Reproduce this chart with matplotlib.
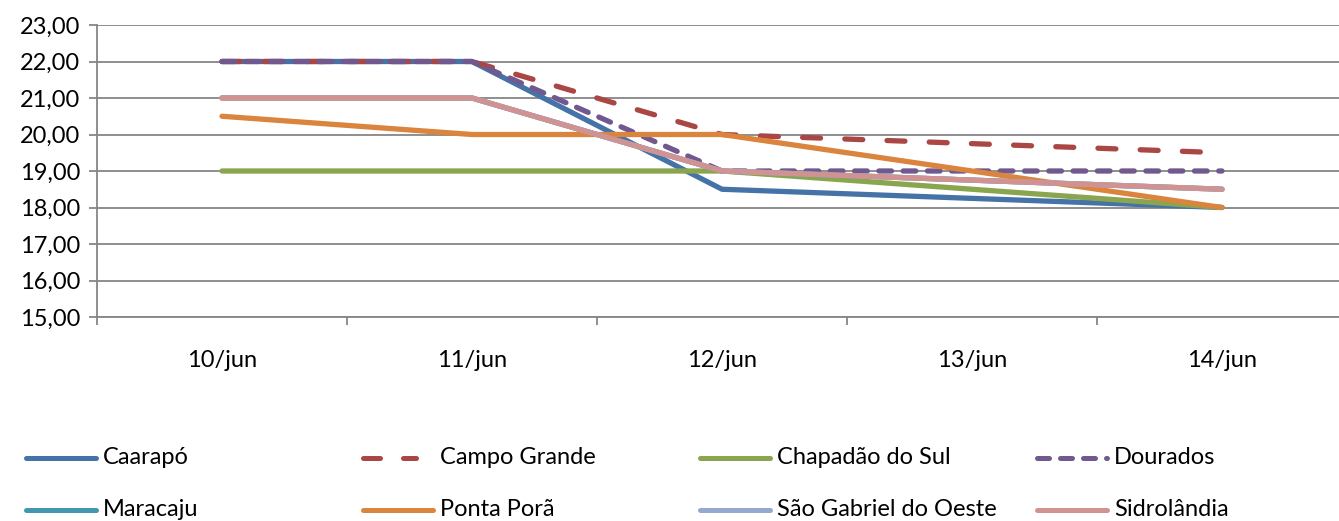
import numpy as np
import matplotlib
matplotlib.use("Agg")
import matplotlib.pyplot as plt
from matplotlib.lines import Line2D
from matplotlib.ticker import FuncFormatter, FixedLocator

plt.rcParams['font.family'] = ['Lato', 'DejaVu Sans']

# data (13/jun has no reading, lines join across it)
dates = ["10/jun", "11/jun", "12/jun", "13/jun", "14/jun"]
caarapo = [22.0, 22.0, 18.5, np.nan, 18.0]
campo_grande = [22.0, 22.0, 20.0, np.nan, 19.5]
chapadao = [19.0, 19.0, 19.0, np.nan, 18.0]
dourados = [22.0, 22.0, 19.0, np.nan, 19.0]
maracaju = [21.0, 21.0, 19.0, np.nan, 18.5]
ponta_pora = [20.5, 20.0, 20.0, np.nan, 18.0]
sao_gabriel = [21.0, 21.0, 19.0, np.nan, 18.5]
sidrolandia = [21.0, 21.0, 19.0, np.nan, 18.5]

names = ["Caarapó", "Campo Grande", "Chapadão do Sul", "Dourados",
         "Maracaju", "Ponta Porã", "São Gabriel do Oeste", "Sidrolândia"]
series = [caarapo, campo_grande, chapadao, dourados,
          maracaju, ponta_pora, sao_gabriel, sidrolandia]
colors = ["#4572A7", "#AA4643", "#89A54E", "#71588F",
          "#4198AF", "#DB843D", "#93A9CF", "#D19392"]
dashes = [None, (3.4, 4.6), None, (2.4, 2.2), None, None, None, None]

FS = 17
W, H = 1339, 521
fig = plt.figure(figsize=(W / 100, H / 100), dpi=100)
ax = fig.add_axes([97 / W, 1 - 317 / H, 1250 / W, 292 / H])

lw = 3.8
x = np.arange(len(dates))
for vals, c, d in zip(series, colors, dashes):
    arr = np.array(vals, dtype=float)
    m = ~np.isnan(arr)
    ln, = ax.plot(x[m], arr[m], color=c, lw=lw, solid_capstyle='round',
                  dash_capstyle='round', solid_joinstyle='round')
    if d is not None:
        ln.set_dashes(d)

ax.set_xlim(-0.5, len(dates) - 0.5)
ax.set_ylim(15, 23)
ax.set_yticks(np.arange(15, 24, 1))
ax.yaxis.set_major_formatter(FuncFormatter(lambda v, p: f"{v:.2f}".replace(".", ",")))
ax.grid(axis='y', color='#868686', lw=1.3)
ax.set_axisbelow(True)

ax.set_xticks(x)
ax.set_xticklabels(dates)
ax.xaxis.set_minor_locator(FixedLocator(np.arange(-0.5, len(dates), 1.0)))
ax.tick_params(axis='x', which='major', length=0, pad=24, labelsize=FS)
ax.tick_params(axis='x', which='minor', length=6, width=1.3, color='#868686')
ax.tick_params(axis='y', length=6, width=1.3, color='#868686', labelsize=FS, pad=6)

for s in ['top', 'right']:
    ax.spines[s].set_visible(False)
for s in ['left', 'bottom']:
    ax.spines[s].set_color('#868686')
    ax.spines[s].set_linewidth(1.3)

# legend laid out like Excel: 4 equal columns, 2 rows
row_y = [458, 510]
for i, (name, c, d) in enumerate(zip(names, colors, dashes)):
    col, row = i % 4, i // 4
    x0 = 26 + 337 * col
    yf = 1 - row_y[row] / H
    hlen = 53 if i == 1 else 70
    hl = Line2D([x0 / W, (x0 + hlen) / W], [yf, yf], color=c, lw=3.6,
                solid_capstyle='round', dash_capstyle='round',
                transform=fig.transFigure)
    if d is not None:
        hl.set_dashes(d)
    fig.add_artist(hl)
    fig.text((x0 + 77) / W, yf, name, fontsize=FS, va='center', ha='left')

fig.savefig("out.png", dpi=100)
